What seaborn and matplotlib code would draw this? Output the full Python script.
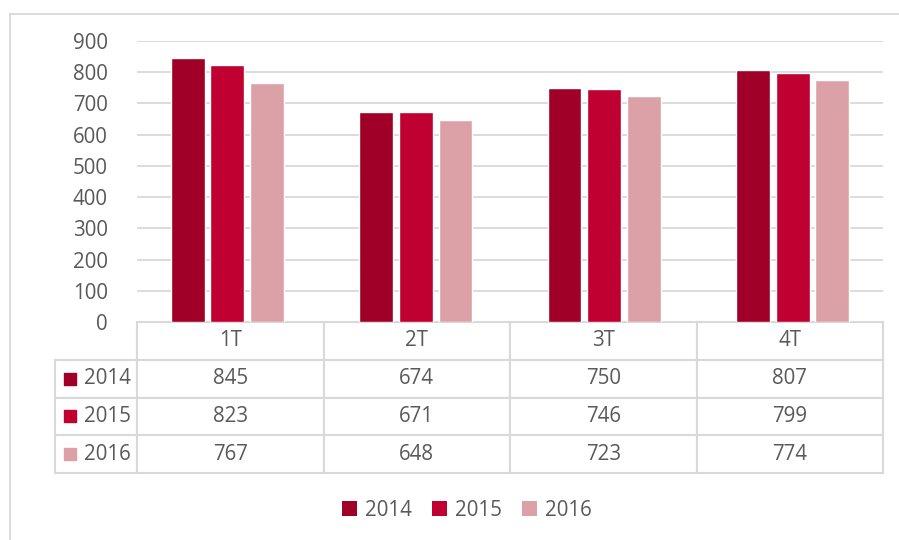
import numpy as np
import pandas as pd
import seaborn as sns
import matplotlib.pyplot as plt
from matplotlib.lines import Line2D
from matplotlib.patches import Patch

# Datos del gráfico
trimestres = ['1T', '2T', '3T', '4T']
anios = ['2014', '2015', '2016']
v2014 = [845, 674, 750, 807]
v2015 = [823, 671, 746, 799]
v2016 = [767, 648, 723, 774]
colores = ['#A00027', '#C00031', '#DCA1A6']

df = pd.DataFrame({
    'trimestre': trimestres * 3,
    'anio': [a for a in anios for _ in trimestres],
    'valor': v2014 + v2015 + v2016,
})

sns.set_style('white')
plt.rcParams['font.family'] = ['Open Sans', 'DejaVu Sans']
gris = '#595959'
fs = 14.8

fig = plt.figure(figsize=(8.99, 5.40), dpi=100)
W, H = 899, 540
ax = fig.add_axes([137 / W, 1 - 322 / H, (883 - 137) / W, (322 - 41) / H])

sns.barplot(data=df, x='trimestre', y='valor', hue='anio', palette=colores,
            width=0.63, gap=0.15, saturation=1, ax=ax, legend=False)

ax.set_ylim(0, 900)
ax.set_yticks(range(0, 901, 100))
ax.yaxis.grid(True, color='#d9d9d9', linewidth=1.3)
ax.set_axisbelow(True)
for s in ax.spines.values():
    s.set_visible(False)
ax.set_xlabel('')
ax.set_ylabel('')
ax.set_xticks([])
ax.tick_params(axis='y', labelsize=fs, labelcolor=gris, length=0, pad=21)

# tabla de datos bajo el eje
filas = [[a] + [str(v) for v in vals] for a, vals in zip(anios, [v2014, v2015, v2016])]
lab_w = 82 / 746
alto = (473 - 322) / 281
tabla = ax.table(cellText=filas, colLabels=[''] + trimestres,
                 colWidths=[lab_w] + [0.25] * 4,
                 bbox=[-lab_w, -alto, 1 + lab_w, alto], cellLoc='center')
tabla.auto_set_font_size(False)
for (r, c), cell in tabla.get_celld().items():
    cell.set_edgecolor('#d9d9d9')
    cell.set_linewidth(1.5)
    cell.get_text().set_color(gris)
    cell.get_text().set_fontsize(fs)
    if r == 0 and c == 0:
        cell.visible_edges = 'BR'
    if c == 0 and r > 0:
        cell.get_text().set_ha('right')
        cell._loc = 'right'
        cell.PAD = 0.08

# cuadrados de color en la columna de etiquetas
for i, col in enumerate(colores):
    y = -alto + alto * (3 - i - 0.5) / 4
    ax.scatter([-lab_w + 15 / 746], [y], marker='s', s=75, color=col,
               transform=ax.transAxes, clip_on=False, zorder=5)

# leyenda
handles = [Patch(facecolor=c, edgecolor='none') for c in colores]
fig.legend(handles, anios, loc='center', bbox_to_anchor=(467 / W, 1 - 510 / H),
           ncol=3, frameon=False, fontsize=fs, labelcolor=gris,
           handlelength=0.7, handleheight=0.7, handletextpad=0.4, columnspacing=1.0)

# marco exterior del gráfico
fig.add_artist(Line2D([9.5 / W, 9.5 / W], [0, 1 - 13.5 / H], color='#d9d9d9', linewidth=1.3))
fig.add_artist(Line2D([9.5 / W, 1], [1 - 13.5 / H, 1 - 13.5 / H], color='#d9d9d9', linewidth=1.3))

fig.savefig('out.png', dpi=100)
